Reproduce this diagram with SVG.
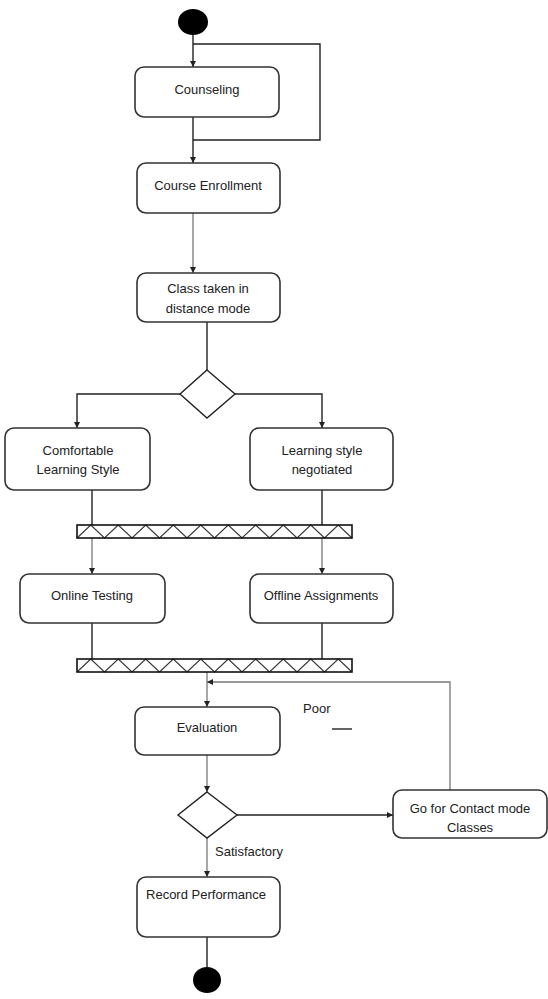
<svg xmlns="http://www.w3.org/2000/svg" width="548" height="999" viewBox="0 0 548 999">
  <style>
    .act { fill: #fff; stroke: #333; stroke-width: 1.6; }
    .dec { fill: #fff; stroke: #222; stroke-width: 1.4; }
    .bar { fill: none; stroke: #111; stroke-width: 1.6; }
    .zig { fill: none; stroke: #333; stroke-width: 1.1; }
    .lbl { font-family: "Liberation Sans", Arial, sans-serif; font-size: 13px; fill: #222; text-anchor: middle; }
    .note { font-family: "Liberation Sans", Arial, sans-serif; font-size: 13px; fill: #222; }
    .edge { fill: none; stroke: #222; stroke-width: 1.4; }
    .soft { fill: none; stroke: #777; stroke-width: 1.3; }
  </style>
  <defs>
    <marker id="arr" viewBox="0 0 10 10" refX="10" refY="5" markerWidth="6" markerHeight="6" orient="auto" markerUnits="userSpaceOnUse">
      <path d="M0,0 L10,5 L0,10 Z" fill="#222"/>
    </marker>
    <!-- synchronisation bar: frame plus zigzag hatching, 10 cells of 27.5 -->
    <g id="syncbar">
      <polyline class="zig" points="0,13 13.75,0 27.5,13 41.25,0 55,13 68.75,0 82.5,13 96.25,0 110,13 123.75,0 137.5,13 151.25,0 165,13 178.75,0 192.5,13 206.25,0 220,13 233.75,0 247.5,13 261.25,0 275,13"/>
      <rect class="bar" x="0" y="0" width="275" height="13"/>
    </g>
  </defs>
  <rect width="548" height="999" fill="#fff"/>

  <!-- connectors -->
  <g id="connectors">
    <!-- start to counseling, with repeat loop -->
    <line class="edge" x1="193" y1="34" x2="193" y2="67" marker-end="url(#arr)"/>
    <polyline class="edge" points="193,44 320,44 320,140 193,140"/>
    <line class="edge" x1="193" y1="117" x2="193" y2="163" marker-end="url(#arr)"/>
    <line class="soft" x1="193" y1="213" x2="193" y2="273" marker-end="url(#arr)"/>
    <line class="edge" x1="207" y1="322" x2="207" y2="370"/>
    <!-- branch -->
    <polyline class="edge" points="180,394 77,394 77,428" marker-end="url(#arr)"/>
    <polyline class="edge" points="235,394 322,394 322,428" marker-end="url(#arr)"/>
    <!-- into fork bar -->
    <line class="edge" x1="92" y1="490" x2="92" y2="525"/>
    <line class="edge" x1="322" y1="490" x2="322" y2="525"/>
    <!-- out of fork bar -->
    <line class="soft" x1="92" y1="538" x2="92" y2="574" marker-end="url(#arr)"/>
    <line class="soft" x1="322" y1="538" x2="322" y2="574" marker-end="url(#arr)"/>
    <!-- into join bar -->
    <line class="edge" x1="92" y1="623" x2="92" y2="659"/>
    <line class="edge" x1="322" y1="623" x2="322" y2="659"/>
    <!-- join bar to evaluation -->
    <line class="soft" x1="207" y1="672" x2="207" y2="707" marker-end="url(#arr)"/>
    <!-- loop back from contact classes -->
    <polyline class="soft" points="450,790 450,682 207,682" marker-end="url(#arr)"/>
    <line class="soft" x1="207" y1="755" x2="207" y2="792" marker-end="url(#arr)"/>
    <line class="edge" x1="237" y1="815" x2="393" y2="815" marker-end="url(#arr)"/>
    <line class="soft" x1="207" y1="838" x2="207" y2="877" marker-end="url(#arr)"/>
    <line class="edge" x1="207" y1="937" x2="207" y2="967"/>
    <line class="edge" x1="332" y1="729" x2="352" y2="729"/>
  </g>

  <g id="start"><ellipse cx="193" cy="22" rx="15" ry="13" fill="#000"/></g>

  <g id="counseling">
    <rect class="act" x="135" y="67" width="144" height="50" rx="9"/>
    <text class="lbl" x="207" y="94">Counseling</text>
  </g>

  <g id="enrollment">
    <rect class="act" x="137" y="163" width="143" height="50" rx="9"/>
    <text class="lbl" x="208" y="190">Course Enrollment</text>
  </g>

  <g id="distance">
    <rect class="act" x="137" y="273" width="143" height="49" rx="9"/>
    <text class="lbl" x="208" y="293">Class taken in</text>
    <text class="lbl" x="208" y="313">distance mode</text>
  </g>

  <g id="decision1"><polygon class="dec" points="207,370 235,394 207,418 180,394"/></g>

  <g id="comfortable">
    <rect class="act" x="5" y="428" width="145" height="62" rx="9"/>
    <text class="lbl" x="78" y="455">Comfortable</text>
    <text class="lbl" x="78" y="474">Learning Style</text>
  </g>

  <g id="negotiated">
    <rect class="act" x="250" y="428" width="143" height="62" rx="9"/>
    <text class="lbl" x="322" y="455">Learning style</text>
    <text class="lbl" x="322" y="474">negotiated</text>
  </g>

  <g id="fork"><use href="#syncbar" x="77" y="525"/></g>

  <g id="online">
    <rect class="act" x="20" y="574" width="145" height="49" rx="9"/>
    <text class="lbl" x="92" y="600">Online Testing</text>
  </g>

  <g id="offline">
    <rect class="act" x="250" y="574" width="143" height="49" rx="9"/>
    <text class="lbl" x="321" y="600">Offline Assignments</text>
  </g>

  <g id="join"><use href="#syncbar" x="77" y="659"/></g>

  <g id="evaluation">
    <rect class="act" x="135" y="707" width="145" height="48" rx="9"/>
    <text class="lbl" x="207" y="732">Evaluation</text>
  </g>

  <g id="poor"><text class="note" x="303" y="713">Poor</text></g>

  <g id="decision2"><polygon class="dec" points="207,792 237,815 207,838 178,815"/></g>

  <g id="contact">
    <rect class="act" x="393" y="790" width="154" height="48" rx="9"/>
    <text class="lbl" x="470" y="813">Go for Contact mode</text>
    <text class="lbl" x="470" y="832">Classes</text>
  </g>

  <g id="satisfactory"><text class="note" x="215" y="856">Satisfactory</text></g>

  <g id="record">
    <rect class="act" x="137" y="877" width="143" height="60" rx="9"/>
    <text class="lbl" x="206" y="899">Record Performance</text>
  </g>

  <g id="end"><ellipse cx="207" cy="980" rx="14" ry="13" fill="#000"/></g>
</svg>
